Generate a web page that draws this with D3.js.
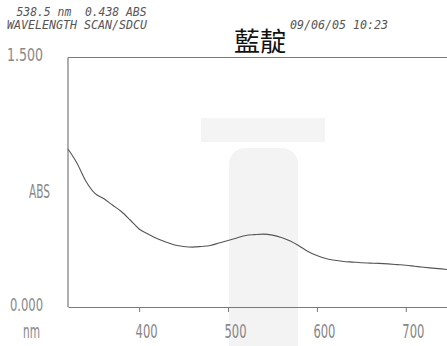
<!DOCTYPE html>
<html>
<head>
<meta charset="utf-8">
<script src="https://cdn.jsdelivr.net/npm/d3@7"></script>
<style>
  body { margin: 0; background: #fff; }
  svg { display: block; }
</style>
</head>
<body>
<svg id="chart" width="447" height="346"></svg>
<script>
// wavelength (nm) and absorbance
const wavelengths = [320, 330, 340, 350, 360, 370, 380, 390, 400, 410, 420, 430, 440, 450,
                     460, 470, 480, 490, 500, 510, 520, 530, 540, 550, 560, 570, 580, 590,
                     600, 610, 620, 630, 640, 650, 660, 670, 680, 690, 700, 710, 720, 730, 740, 750];
const absorbance = [0.950, 0.866, 0.758, 0.685, 0.652, 0.613, 0.574, 0.523, 0.469, 0.439, 0.412, 0.391, 0.373, 0.364,
                    0.360, 0.364, 0.370, 0.385, 0.400, 0.415, 0.430, 0.435, 0.438, 0.432, 0.418, 0.397, 0.367, 0.334,
                    0.310, 0.292, 0.281, 0.274, 0.270, 0.266, 0.264, 0.262, 0.259, 0.255, 0.251, 0.245, 0.239, 0.234, 0.229, 0.224];
const xTicks = [400, 500, 600, 700];
const yTicks = [0, 1.5];
const headerLine1 = "538.5 nm  0.438 ABS";
const headerLine2 = "WAVELENGTH SCAN/SDCU";
const dateText = "09/06/05 10:23";
const title = "藍靛";

const svg = d3.select("#chart");

// scales
const x = d3.scaleLinear().domain([320, 800]).range([68, 494.7]);
const y = d3.scaleLinear().domain([0, 1.5]).range([307, 57.5]);

const grey = "#7a7a7a";

// faint scanner marks in the background
svg.append("rect").attr("x", 201).attr("y", 118).attr("width", 124).attr("height", 24)
   .attr("fill", "#f4f4f4");
svg.append("rect").attr("x", 229).attr("y", 148).attr("width", 69).attr("height", 230)
   .attr("rx", 16).attr("fill", "#f3f3f3");

// header texts
const mono = "'DejaVu Sans Mono', monospace";
svg.append("text").attr("x", 16.5).attr("y", 15.5).text(headerLine1)
   .attr("font-family", mono).attr("font-style", "italic").attr("font-size", 11.5)
   .attr("fill", "#555").attr("textLength", 130).attr("lengthAdjust", "spacingAndGlyphs")
   .style("white-space", "pre");
svg.append("text").attr("x", 7).attr("y", 28.5).text(headerLine2)
   .attr("font-family", mono).attr("font-style", "italic").attr("font-size", 11.5)
   .attr("fill", "#555").attr("textLength", 140).attr("lengthAdjust", "spacingAndGlyphs");
svg.append("text").attr("x", 290).attr("y", 28.5).text(dateText)
   .attr("font-family", mono).attr("font-style", "italic").attr("font-size", 11.5)
   .attr("fill", "#555").attr("textLength", 98).attr("lengthAdjust", "spacingAndGlyphs");

// title
svg.append("text").attr("x", 260).attr("y", 51).attr("text-anchor", "middle").text(title)
   .attr("font-family", "'Noto Sans CJK TC', 'Noto Sans CJK SC', sans-serif")
   .attr("font-size", 26).attr("fill", "#111");

// frame: top line and left axis
svg.append("line").attr("x1", x(320)).attr("x2", x(800)).attr("y1", y(1.5)).attr("y2", y(1.5))
   .attr("stroke", grey).attr("stroke-width", 1.2);
svg.append("line").attr("x1", x(320)).attr("x2", x(320)).attr("y1", y(1.5)).attr("y2", y(0))
   .attr("stroke", grey).attr("stroke-width", 1.2);

// bottom axis
const narrow = "'Liberation Sans Narrow', 'DejaVu Sans Condensed', sans-serif";
const xAxis = svg.append("g")
   .attr("transform", `translate(0,${y(0)})`)
   .call(d3.axisBottom(x).tickValues(xTicks).tickSize(5).tickSizeOuter(0).tickFormat(d3.format("d")));
xAxis.select(".domain").attr("stroke", grey).attr("stroke-width", 1.2);
xAxis.selectAll(".tick line").attr("stroke", grey);
xAxis.selectAll(".tick text")
   .attr("y", 31).attr("dy", 0).attr("x", 7)
   .attr("font-family", narrow).attr("font-size", 20).attr("fill", "#888")
   .attr("textLength", 22).attr("lengthAdjust", "spacingAndGlyphs");

// y tick labels
svg.selectAll(".ylab")
   .data(yTicks)
   .enter().append("text")
   .attr("class", "ylab")
   .attr("x", d => d === 0 ? 10 : 7)
   .attr("y", d => y(d) + 3.5)
   .text(d => d3.format(".3f")(d))
   .attr("font-family", narrow).attr("font-size", 17).attr("fill", "#888")
   .attr("textLength", d => d === 0 ? 33 : 36).attr("lengthAdjust", "spacingAndGlyphs");

// axis names
svg.append("text").attr("x", 29).attr("y", 198).text("ABS")
   .attr("font-family", narrow).attr("font-size", 19).attr("fill", "#888")
   .attr("textLength", 21).attr("lengthAdjust", "spacingAndGlyphs");
svg.append("text").attr("x", 23).attr("y", 338).text("nm")
   .attr("font-family", narrow).attr("font-size", 19).attr("fill", "#888")
   .attr("textLength", 17).attr("lengthAdjust", "spacingAndGlyphs");

// spectrum
const line = d3.line()
   .x((d, i) => x(wavelengths[i]))
   .y(d => y(d))
   .curve(d3.curveMonotoneX);

svg.append("path")
   .datum(absorbance)
   .attr("d", line)
   .attr("fill", "none")
   .attr("stroke", "#555")
   .attr("stroke-width", 1.1);
</script>
</body>
</html>
